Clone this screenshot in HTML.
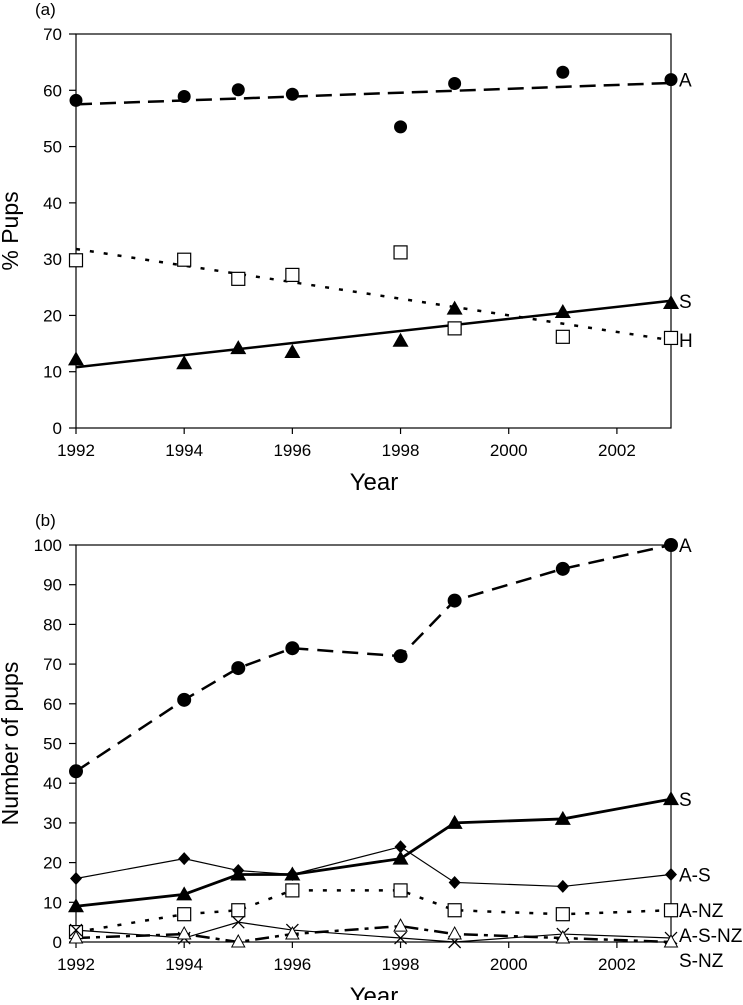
<!DOCTYPE html>
<html><head><meta charset="utf-8"><style>
body{margin:0;background:#fff;}
svg text{font-family:"Liberation Sans",Arial,sans-serif;fill:#000;}
</style></head><body>
<svg id="svg" width="743" height="1000" xmlns="http://www.w3.org/2000/svg"></svg>
<script>
const years=[1992,1994,1995,1996,1998,1999,2001,2003];
const xTicks=[1992,1994,1996,1998,2000,2002];
// panel a
const aPctA=[58.2,58.9,60.1,59.3,53.5,61.2,63.2,61.9];
const aPctH=[29.8,29.9,26.5,27.2,31.2,17.7,16.2,16.0];
const aPctS=[12.2,11.5,14.2,13.5,15.5,21.2,20.6,22.2];
const trendA=[57.5,61.3];
const trendH=[31.8,15.6];
const trendS=[10.8,22.6];
const aYTicks=[0,10,20,30,40,50,60,70];
// panel b
const bA=[43,61,69,74,72,86,94,100];
const bS=[9,12,17,17,21,30,31,36];
const bAS=[16,21,18,17,24,15,14,17];
const bANZ=[2.5,7,8,13,13,8,7,8];
const bASNZ=[3,1,5,3,1,0,2,1];
const bSNZ=[1,2,0,2,4,2,1,0];
const bYTicks=[0,10,20,30,40,50,60,70,80,90,100];

const NS="http://www.w3.org/2000/svg";
const svg=document.getElementById('svg');
function mk(tag,attrs,parent){const e=document.createElementNS(NS,tag);for(const k in attrs)e.setAttribute(k,attrs[k]);(parent||svg).appendChild(e);return e;}
function txt(s,x,y,size,anchor,parent){const t=mk('text',{x:x,y:y,'font-size':size,'text-anchor':anchor||'start'},parent);t.textContent=s;return t;}

const L=76,R=671;
const xs=y=>L+(y-1992)*(R-L)/11;

function panel(top,bot,ymax,yticks,label,ytitle,tag){
  const g=mk('g',{});
  
  
  const ys=v=>bot-(v/ymax)*(bot-top);
  const f=mk('rect',{x:L,y:top,width:R-L,height:bot-top,fill:'none',stroke:'#000','stroke-width':1.2},g);
  
  
  yticks.forEach(v=>{
    mk('line',{x1:L-7,x2:L,y1:ys(v),y2:ys(v),stroke:'#000','stroke-width':1.2},g);
    const t=txt(String(v),L-14,ys(v)+6,17,'end',g);
    
    
  });
  xTicks.forEach(v=>{
    mk('line',{x1:xs(v),x2:xs(v),y1:bot,y2:bot+6,stroke:'#000','stroke-width':1.2},g);
    const t=txt(String(v),xs(v),bot+28,17,'middle',g);
    
    
  });
  const xt=txt('Year',374,bot+62,24,'middle',g);
  
  
  const yt=txt(ytitle,0,0,23,'middle',g);
  yt.setAttribute('transform','translate(18,'+((top+bot)/2)+') rotate(-90)');
  
  
  const pl=txt(label,35,top-19,17,'start',g);
  
  
  return {g,ys};
}
function line(g,vals,ys,style,name){
  const pts=years.map((y,i)=>xs(y)+','+ys(vals[i])).join(' ');
  const p=mk('polyline',Object.assign({points:pts,fill:'none',stroke:'#000'},style),g);
  
  
}
function trend(g,tv,ys,style,name){
  const p=mk('line',Object.assign({x1:xs(1992),y1:ys(tv[0]),x2:xs(2003),y2:ys(tv[1]),stroke:'#000'},style),g);
  
  
}
function marks(g,vals,ys,type,name,sz){
  years.forEach((y,i)=>{
    const x=xs(y),v=ys(vals[i]);let e;
    if(type==='circle')e=mk('circle',{cx:x,cy:v,r:sz||6.5,fill:'#000'},g);
    else if(type==='square')e=mk('rect',{x:x-6.5,y:v-6.5,width:13,height:13,fill:'#fff',stroke:'#000','stroke-width':1.2},g);
    else if(type==='tri')e=mk('polygon',{points:`${x},${v-8} ${x-8},${v+6} ${x+8},${v+6}`,fill:'#000'},g);
    else if(type==='otri')e=mk('polygon',{points:`${x},${v-7} ${x-6.5},${v+5} ${x+6.5},${v+5}`,fill:'#fff',stroke:'#000','stroke-width':1},g);
    else if(type==='diamond')e=mk('polygon',{points:`${x},${v-6.5} ${x+6},${v} ${x},${v+6.5} ${x-6},${v}`,fill:'#000'},g);
    else if(type==='x')e=mk('path',{d:`M${x-6},${v-6}L${x+6},${v+6}M${x-6},${v+6}L${x+6},${v-6}`,stroke:'#000','stroke-width':1.3,fill:'none'},g);
    
    
  });
}
function endLabel(g,s,y,name){
  const t=txt(s,679,y+7,19,'start',g);
  
  
}

// Panel a
const pa=panel(34,428,70,aYTicks,'(a)','% Pups','a');
trend(pa.g,trendA,pa.ys,{'stroke-width':2.5,'stroke-dasharray':'16,8'},'trend-a');
trend(pa.g,trendH,pa.ys,{'stroke-width':2.5,'stroke-dasharray':'4,10'},'trend-h');
trend(pa.g,trendS,pa.ys,{'stroke-width':2.5},'trend-s');
marks(pa.g,aPctA,pa.ys,'circle','point-a');
marks(pa.g,aPctH,pa.ys,'square','point-h');
marks(pa.g,aPctS,pa.ys,'tri','point-s');
endLabel(pa.g,'A',pa.ys(61.9),'label-a');
endLabel(pa.g,'S',pa.ys(22.6),'label-s');
endLabel(pa.g,'H',pa.ys(15.6),'label-h');

// Panel b
const pb=panel(545,942,100,bYTicks,'(b)','Number of pups','b');
line(pb.g,bA,pb.ys,{'stroke-width':2.5,'stroke-dasharray':'16,9'},'line-a');
line(pb.g,bANZ,pb.ys,{'stroke-width':2.5,'stroke-dasharray':'4,10'},'line-a-nz');
line(pb.g,bSNZ,pb.ys,{'stroke-width':2.5,'stroke-dasharray':'14,6,4,6'},'line-s-nz');
line(pb.g,bASNZ,pb.ys,{'stroke-width':1.2},'line-a-s-nz');
line(pb.g,bAS,pb.ys,{'stroke-width':1.2},'line-a-s');
line(pb.g,bS,pb.ys,{'stroke-width':2.8},'line-s');
marks(pb.g,bA,pb.ys,'circle','point-a',7);
marks(pb.g,bS,pb.ys,'tri','point-s');
marks(pb.g,bAS,pb.ys,'diamond','point-a-s');
marks(pb.g,bANZ,pb.ys,'square','point-a-nz');
marks(pb.g,bASNZ,pb.ys,'x','point-a-s-nz');
marks(pb.g,bSNZ,pb.ys,'otri','point-s-nz');
endLabel(pb.g,'A',pb.ys(100),'label-a');
endLabel(pb.g,'S',pb.ys(36),'label-s');
endLabel(pb.g,'A-S',pb.ys(17),'label-a-s');
endLabel(pb.g,'A-NZ',pb.ys(8),'label-a-nz');
endLabel(pb.g,'A-S-NZ',pb.ys(1.8),'label-a-s-nz');
endLabel(pb.g,'S-NZ',pb.ys(-4.5),'label-s-nz');
</script>
</body></html>
